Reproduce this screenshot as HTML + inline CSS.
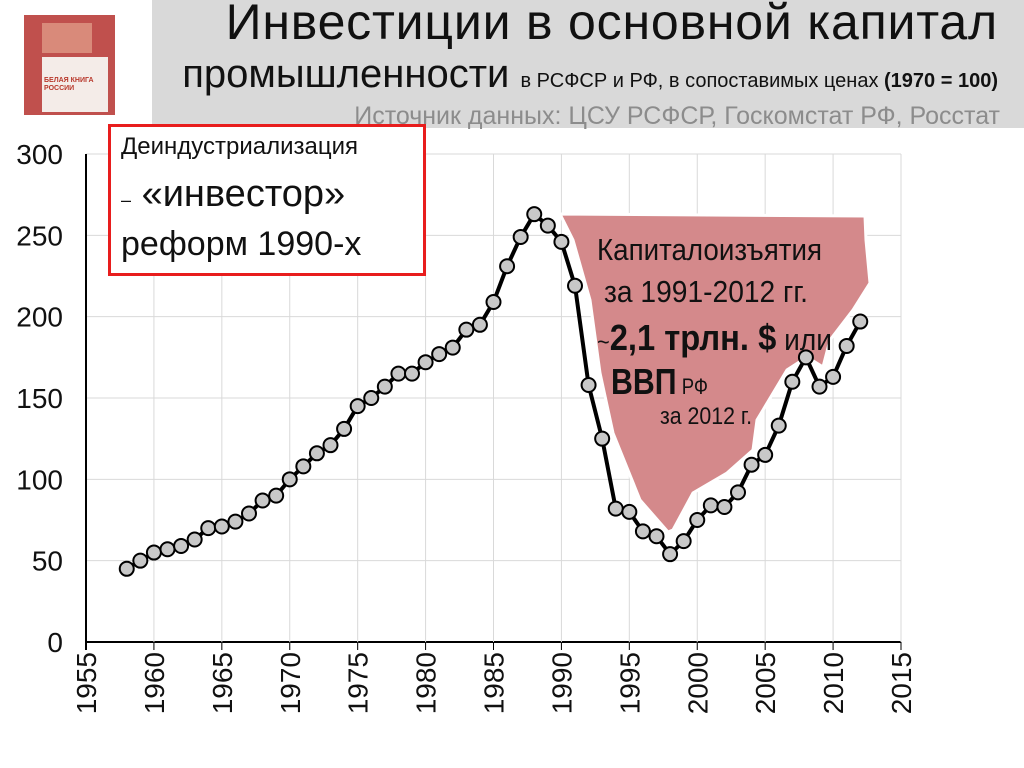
<!DOCTYPE html>
<html><head><meta charset="utf-8">
<style>
body{margin:0;width:1024px;height:768px;background:#fff;overflow:hidden;font-family:"Liberation Sans","DejaVu Sans",sans-serif;position:relative}
#hdr{position:absolute;left:152px;top:0;width:872px;height:128px;background:#d9d9d9}
.t1{position:absolute;right:26px;top:-7px;font-size:50px;letter-spacing:0.8px;color:#111;white-space:nowrap}
.t2{position:absolute;right:26px;top:52px;font-size:40px;color:#111;white-space:nowrap}
.t2 small{font-size:20px}
.t3{position:absolute;right:24px;top:102px;font-size:25px;color:#8c8c8c;white-space:nowrap}
#logo{position:absolute;left:24px;top:15px;width:91px;height:100px;background:#c0504d}
#box{position:absolute;left:108px;top:124px;width:312px;height:146px;border:3px solid #e81d1d;background:#fff;font-size:24px;color:#111}
</style></head><body>
<div id="hdr">
<div class="t1">Инвестиции в основной капитал</div>
<div class="t2">промышленности <small>в РСФСР и РФ, в сопоставимых ценах <b>(1970 = 100)</b></small></div>
<div class="t3">Источник данных: ЦСУ РСФСР, Госкомстат РФ, Росстат</div>
</div>
<div id="logo">
<div style="position:absolute;left:18px;top:8px;width:50px;height:30px;background:#d98a7a"></div>
<div style="position:absolute;left:18px;top:42px;width:66px;height:55px;background:#f4ece8"></div>
<div style="position:absolute;left:20px;top:62px;font-size:7px;line-height:8px;color:#b8392c;font-weight:bold">БЕЛАЯ КНИГА<br>РОССИИ</div></div>
<svg id="chart" width="1024" height="768" style="position:absolute;left:0;top:0"></svg>
<div id="box">
<div style="position:absolute;left:10px;top:6px;font-size:24px">Деиндустриализация</div>
<div style="position:absolute;left:10px;top:46px;font-size:38px;white-space:nowrap"><span style="font-size:18px">–</span> «инвестор»</div>
<div style="position:absolute;left:10px;top:98px;font-size:34px;white-space:nowrap">реформ 1990-х</div>
</div>
<script>
const years=[1958,1959,1960,1961,1962,1963,1964,1965,1966,1967,1968,1969,1970,1971,1972,1973,1974,1975,1976,1977,1978,1979,1980,1981,1982,1983,1984,1985,1986,1987,1988,1989,1990,1991,1992,1993,1994,1995,1996,1997,1998,1999,2000,2001,2002,2003,2004,2005,2006,2007,2008,2009,2010,2011,2012];
const values=[45,50,55,57,59,63,70,71,74,79,87,90,100,108,116,121,131,145,150,157,165,165,172,177,181,192,195,209,231,249,263,256,246,219,158,125,82,80,68,65,54,62,75,84,83,92,109,115,133,160,175,157,163,182,197];
const xTicks=[1955,1960,1965,1970,1975,1980,1985,1990,1995,2000,2005,2010,2015];
const yTicks=[0,50,100,150,200,250,300];
const NS="http://www.w3.org/2000/svg";
const svg=document.getElementById('chart');
const X=y=>86+(y-1955)*(815/60);
const Y=v=>642-v*(488/300);
function mk(t,a){const e=document.createElementNS(NS,t);for(const k in a)e.setAttribute(k,a[k]);svg.appendChild(e);return e;}
for(const t of yTicks){
 const g=mk('line',{x1:86,x2:901,y1:Y(t),y2:Y(t),stroke:t?'#d9d9d9':'#000','stroke-width':t?1:2});
 
 
 const l=mk('text',{x:63,y:Y(t)+10,'text-anchor':'end','font-size':28,fill:'#111'});l.textContent=t;
 
 
}
for(const t of xTicks){
 const g=mk('line',{x1:X(t),x2:X(t),y1:Y(300),y2:Y(0)+8,stroke:t==1955?'#000':'#d9d9d9','stroke-width':t==1955?2:1});
 
 
 mk('line',{x1:X(t),x2:X(t),y1:Y(0),y2:Y(0)+8,stroke:'#000','stroke-width':1});
 const l=mk('text',{x:0,y:0,'font-size':28,fill:'#111','text-anchor':'end',transform:`translate(${X(t)+10},652) rotate(-90)`});l.textContent=t;
 
 
}
const blob=mk('polygon',{points:"560,214 865,216 866,240 870,283 853,310 830,340 823,367 807,357 787,370 757,420 753,450 727,473 693,493 673,530 668,532 640,500 613,433 600,373 590,300 573,240",fill:'#d4898b',stroke:'#fff','stroke-width':3});


const ln=mk('polyline',{points:years.map((y,i)=>X(y)+','+Y(values[i])).join(' '),fill:'none',stroke:'#000','stroke-width':4});


years.forEach((y,i)=>{const c=mk('circle',{cx:X(y),cy:Y(values[i]),r:7,fill:'#c8c8c8',stroke:'#000','stroke-width':2});
 
 });
function tx(s,x,y,fs,len,name){const e=mk('text',{x,y,'font-size':fs,fill:'#111',textLength:len,lengthAdjust:'spacingAndGlyphs'});e.textContent=s;
 
 return e;}
tx("Капиталоизъятия",597,260,31,225,'area-label-1');
tx("за 1991-2012 гг.",604,302,31,204,'area-label-2');
const t3=mk('text',{x:597,y:350,'font-size':36,fill:'#111',textLength:235,lengthAdjust:'spacingAndGlyphs'});
t3.innerHTML='<tspan font-size="24">~</tspan><tspan font-weight="bold">2,1 трлн. $</tspan><tspan font-size="31"> или</tspan>';


const t4=mk('text',{x:611,y:394,'font-size':36,fill:'#111',textLength:97,lengthAdjust:'spacingAndGlyphs'});
t4.innerHTML='<tspan font-weight="bold">ВВП</tspan><tspan font-size="22"> РФ</tspan>';


tx("за 2012 г.",660,424,24,92,'area-label-5');
</script>
</body></html>
